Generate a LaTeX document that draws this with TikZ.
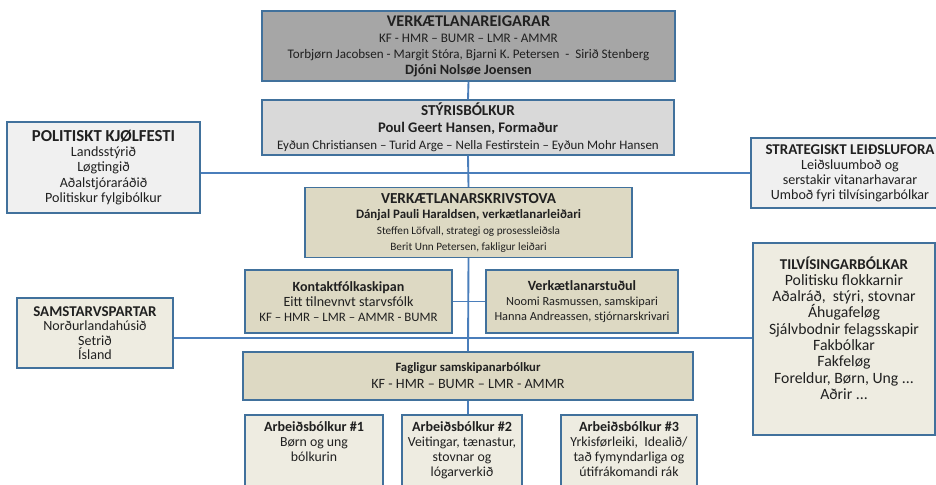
\documentclass[tikz,border=0pt]{standalone}
\usepackage{fontspec}
\setmainfont{Carlito}
\definecolor{bordc}{HTML}{41719C}
\definecolor{linec}{HTML}{4A7EBB}
\definecolor{owngray}{HTML}{A6A6A6}
\definecolor{styrgray}{HTML}{D9D9D9}
\definecolor{lightbox}{HTML}{F0F0F0}
\definecolor{beige}{HTML}{EEECE1}
\definecolor{tan}{HTML}{DDD9C3}
\definecolor{txt}{HTML}{202020}
% #1 name, #2 target width in px, #3 font switch, #4 sample text, #5 baselineskip in pt
\newcommand\mkfs[5]{%
  \setbox0\hbox{\fontsize{10pt}{12pt}\selectfont#3#4}%
  \pgfmathsetmacro\tmpfs{7.5*#2/\the\wd0}%
  \expandafter\xdef\csname#1\endcsname{\noexpand\fontsize{\tmpfs pt}{#5pt}\noexpand\selectfont\noexpand#3}}
\begin{document}
\mkfs{ownT}{163.3}{\bfseries}{VERKÆTLANAREIGARAR}{12}%
\mkfs{ownR}{361.7}{\relax}{Torbjørn Jacobsen - Margit Stóra, Bjarni K. Petersen \ - \ Sirið Stenberg}{12}%
\mkfs{ownB}{126.7}{\bfseries}{Djóni Nolsøe Joensen}{12}%
\mkfs{styT}{93.7}{\bfseries}{STÝRISBÓLKUR}{12.75}%
\mkfs{styB}{180}{\bfseries}{Poul Geert Hansen, Formaður}{12.75}%
\mkfs{styR}{381.7}{\relax}{Eyðun Christiansen – Turid Arge – Nella Festirstein – Eyðun Mohr Hansen}{12.75}%
\mkfs{polT}{143.3}{\bfseries}{POLITISKT KJØLFESTI}{11.6}%
\mkfs{polR}{116.7}{\relax}{Politiskur fylgibólkur}{11.6}%
\mkfs{strT}{169}{\bfseries}{STRATEGISKT LEIÐSLUFORA}{11.25}%
\mkfs{strR}{158.3}{\relax}{Umboð fyri tilvísingarbólkar}{11.25}%
\mkfs{skrT}{175}{\bfseries}{VERKÆTLANARSKRIVSTOVA}{11.75}%
\mkfs{skrB}{225}{\bfseries}{Dánjal Pauli Haraldsen, verkætlanarleiðari}{11.75}%
\mkfs{skrR}{183.3}{\relax}{Steffen Löfvall, strategi og prosessleiðsla}{11.75}%
\mkfs{konT}{111.7}{\bfseries}{Kontaktfólkaskipan}{11}%
\mkfs{konM}{130}{\relax}{Eitt tilnevnvt starvsfólk}{11}%
\mkfs{konR}{178.3}{\relax}{KF – HMR – LMR – AMMR - BUMR}{11}%
\mkfs{stuT}{108.3}{\bfseries}{Verkætlanarstuðul}{11}%
\mkfs{stuR}{175}{\relax}{Hanna Andreassen, stjórnarskrivari}{11}%
\mkfs{samT}{123.3}{\bfseries}{SAMSTARVSPARTAR}{10.9}%
\mkfs{samR}{103.3}{\relax}{Norðurlandahúsið}{10.9}%
\mkfs{tilT}{128.3}{\bfseries}{TILVÍSINGARBÓLKAR}{12.2}%
\mkfs{tilR}{150}{\relax}{Sjálvbodnir felagsskapir}{12.2}%
\mkfs{fagT}{145}{\bfseries}{Fagligur samskipanarbólkur}{12.75}%
\mkfs{fagR}{193.3}{\relax}{KF - HMR – BUMR – LMR - AMMR}{12.75}%
\mkfs{abT}{100}{\bfseries}{Arbeiðsbólkur \#2}{11.25}%
\mkfs{abR}{108.3}{\relax}{Veitingar, tænastur,}{11.25}%
\begin{tikzpicture}[x=0.75pt,y=-0.75pt,
  box/.style={draw=bordc, line width=1pt, inner sep=0pt, align=center, text=txt},
  txtn/.style={inner sep=0pt, align=center, text=txt},
  conn/.style={draw=linec, line width=1.4pt}]
\useasboundingbox (0,0) rectangle (936,485);
\clip (0,0) rectangle (936,485);
\fill[white] (0,0) rectangle (936,485);

\node[box, font=\ownR, fill=owngray, minimum width=309.75pt, minimum height=52.5pt] (own) at (468.5,46)
 {{\ownT VERKÆTLANAREIGARAR}\\{\ownR KF - HMR – BUMR – LMR - AMMR}\\{\ownR Torbjørn Jacobsen - Margit Stóra, Bjarni K. Petersen \ - \ Sirið Stenberg}\\{\ownB Djóni Nolsøe Joensen}};

\node[box, font=\styR, fill=styrgray, minimum width=309pt, minimum height=41.25pt] (styr) at (468,127.5)
 {{\styT STÝRISBÓLKUR}\\{\styB Poul Geert Hansen, Formaður}\\{\styR Eyðun Christiansen – Turid Arge – Nella Festirstein – Eyðun Mohr Hansen}};

\node[box, font=\polR, fill=lightbox, minimum width=144.75pt, minimum height=68.25pt] (pol) at (103.5,167.5)
 {{\polT POLITISKT KJØLFESTI}\\{\polR Landsstýrið}\\{\polR Løgtingið}\\{\polR Aðalstjóraráðið}\\{\polR Politiskur fylgibólkur}};

\node[box, font=\strR, fill=lightbox, minimum width=148.5pt, minimum height=52.5pt] (strat) at (850,173)
 {{\strT STRATEGISKT LEIÐSLUFORA}\\{\strR Leiðsluumboð og}\\{\strR serstakir vitanarhavarar}\\{\strR Umboð fyri tilvísingarbólkar}};

\node[box, font=\skrR, fill=tan, minimum width=245.25pt, minimum height=52.5pt] (skriv) at (468.5,222.5)
 {{\skrT VERKÆTLANARSKRIVSTOVA}\\{\skrB Dánjal Pauli Haraldsen, verkætlanarleiðari}\\{\skrR Steffen Löfvall, strategi og prosessleiðsla}\\{\skrR Berit Unn Petersen, fakligur leiðari}};

\node[box, font=\konR, fill=tan, minimum width=155.25pt, minimum height=47.25pt] (kont) at (348.5,301.5)
 {{\konT Kontaktfólkaskipan}\\{\konM Eitt tilnevnvt starvsfólk}\\{\konR KF – HMR – LMR – AMMR - BUMR}};

\node[box, font=\stuR, fill=tan, minimum width=144pt, minimum height=47.25pt] (stud) at (582,301.5)
 {{\stuT Verkætlanarstuðul}\\{\stuR Noomi Rasmussen, samskipari}\\{\stuR Hanna Andreassen, stjórnarskrivari}};

\node[box, font=\samR, fill=beige, minimum width=117pt, minimum height=52.5pt] (sams) at (95,333)
 {{\samT SAMSTARVSPARTAR}\\{\samR Norðurlandahúsið}\\{\samR Setrið}\\{\samR Ísland}};

\node[box, fill=beige, minimum width=136.5pt, minimum height=144pt] (tilv) at (844,339) {};
\node[txtn, font=\tilR] (tilvt) at (844,328)
 {{\tilT TILVÍSINGARBÓLKAR}\\{\tilR Politisku flokkarnir}\\{\tilR Aðalráð, \ stýri, stovnar}\\{\tilR Áhugafeløg}\\{\tilR Sjálvbodnir felagsskapir}\\{\tilR Fakbólkar}\\{\tilR Fakfeløg}\\{\tilR Foreldur, Børn, Ung ...}\\{\tilR Aðrir ...}};

\node[box, font=\fagR, fill=tan, minimum width=337.5pt, minimum height=36pt] (fag) at (468,376)
 {{\fagT Fagligur samskipanarbólkur}\\{\fagR KF - HMR – BUMR – LMR - AMMR}};

\node[box, fill=beige, minimum width=103.5pt, minimum height=63.75pt] (ab1) at (314,457.5) {};
\node[box, fill=beige, minimum width=90pt, minimum height=63.75pt] (ab2) at (462,457.5) {};
\node[box, fill=beige, minimum width=102pt, minimum height=63.75pt] (ab3) at (629,457.5) {};
\node[txtn, font=\abR, anchor=north] (ab1t) at ([yshift=-5pt]ab1.north) {{\abT Arbeiðsbólkur \#1}\\{\abR Børn og ung}\\{\abR bólkurin}};
\node[txtn, font=\abR, anchor=north] (ab2t) at ([yshift=-5pt]ab2.north) {{\abT Arbeiðsbólkur \#2}\\{\abR Veitingar, tænastur,}\\{\abR stovnar og}\\{\abR lógarverkið}};
\node[txtn, font=\abR, anchor=north] (ab3t) at ([yshift=-5pt]ab3.north) {{\abT Arbeiðsbólkur \#3}\\{\abR Yrkisførleiki, \ Idealið/}\\{\abR tað fymyndarliga og}\\{\abR útifrákomandi rák}};

\coordinate (h2) at (468,338);
\draw[conn] (own.south) -- (styr.north);
\draw[conn] (styr.south) -- (skriv.north);
\draw[conn] (pol.east |- strat.west) -- (strat.west);
\draw[conn] (skriv.south) -- (fag.north);
\draw[conn] (kont.east) -- (stud.west);
\draw[conn] (sams.east |- h2) -- (tilv.west |- h2);
\draw[conn] (fag.south) -- (fag.south |- ab2.north);
\end{tikzpicture}
\end{document}
